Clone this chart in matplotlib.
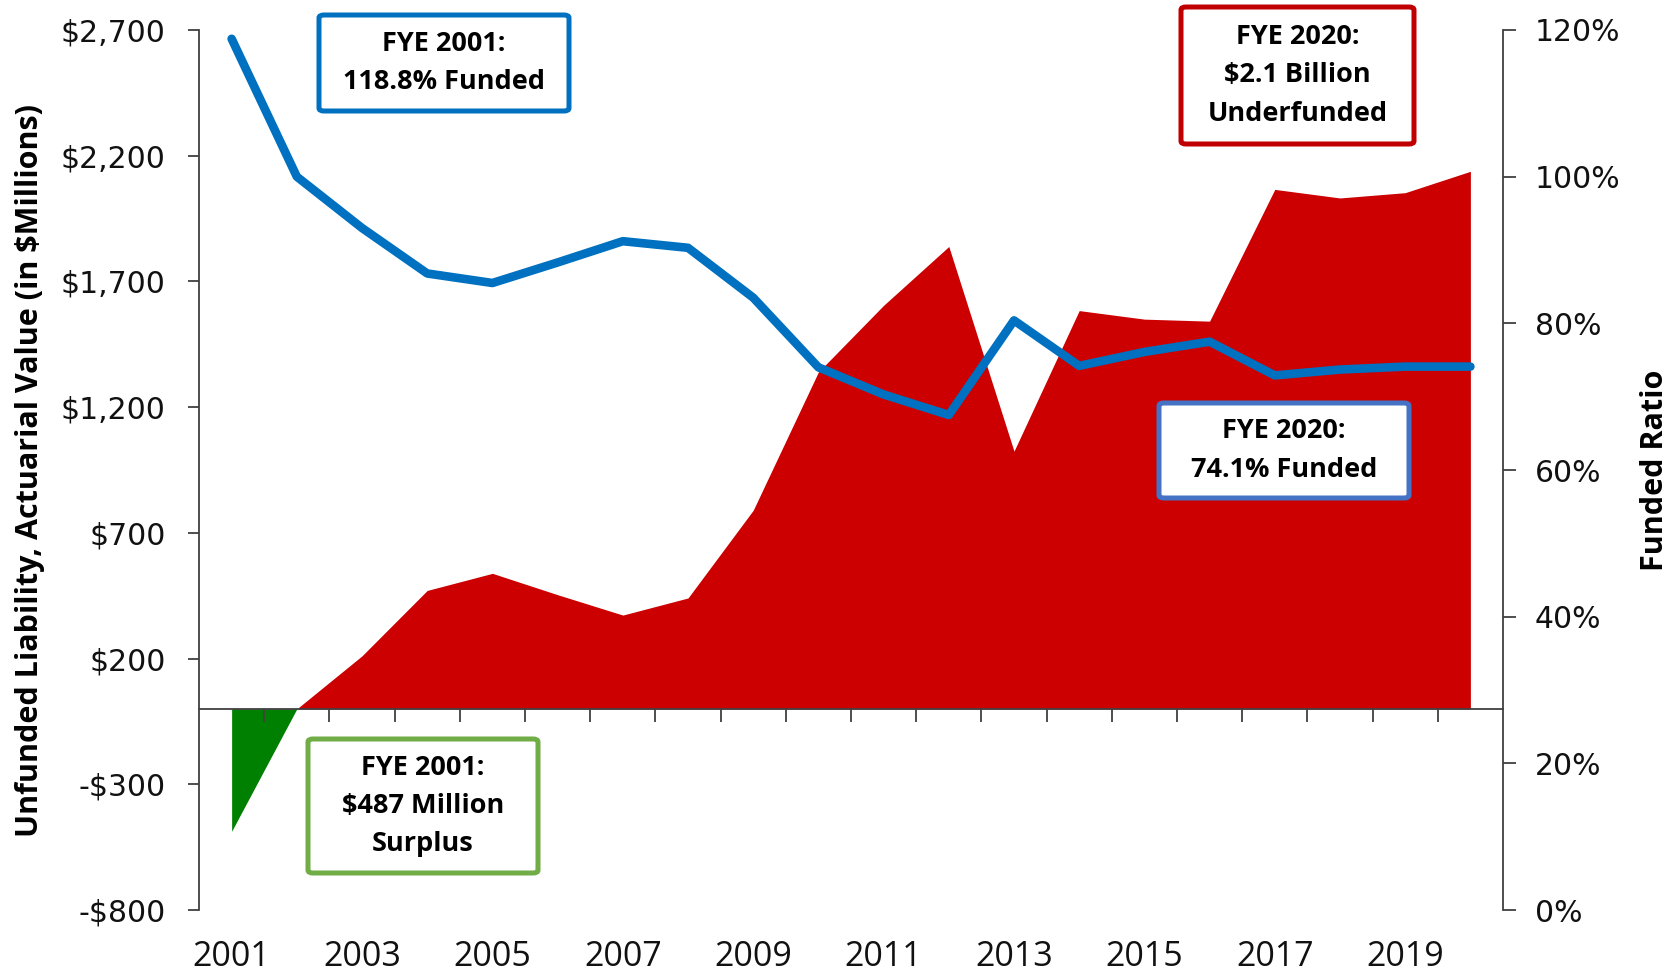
import matplotlib.pyplot as plt
from matplotlib.patches import FancyBboxPatch
from matplotlib.transforms import blended_transform_factory

years = list(range(2001, 2021))
unfunded = [-487, 0, 211, 471, 539, 454, 373, 441, 790, 1340,
            1605, 1839, 1025, 1584, 1550, 1542, 2066, 2032, 2053, 2138]
funded_ratio = [118.8, 100.0, 93.0, 86.8, 85.5, 88.3, 91.2, 90.3, 83.5, 74.0,
                70.3, 67.5, 80.4, 74.2, 76.1, 77.5, 72.9, 73.7, 74.1, 74.1]

left_ticks = [-800, -300, 200, 700, 1200, 1700, 2200, 2700]
right_ticks = [0, 20, 40, 60, 80, 100, 120]

tick_font = 'DejaVu Sans'
box_font = 'Open Sans'

fig = plt.figure(figsize=(16.81, 9.74), dpi=100)
ax = fig.add_axes([0.1184, 0.0657, 0.7757, 0.9035])

# area: red where underfunded, green where surplus
ax.fill_between(years, unfunded, 0, where=[v >= 0 for v in unfunded],
                color='#CC0000', interpolate=True, linewidth=0)
ax.fill_between(years, unfunded, 0, where=[v <= 0 for v in unfunded],
                color='#008000', interpolate=True, linewidth=0)

ax.set_xlim(2000.5, 2020.5)
ax.set_ylim(-800, 2700)
ax.set_yticks(left_ticks)
ax.set_yticklabels([('-$%s' % format(-t, ',')) if t < 0 else '$%s' % format(t, ',')
                    for t in left_ticks], fontfamily=tick_font, fontsize=21.5, color='#111111')
ax.tick_params(axis='y', length=8, width=1.3, color='#404040', pad=16)

ax.spines['top'].set_visible(False)
ax.spines['right'].set_visible(False)
ax.spines['left'].set_color('#404040')
ax.spines['left'].set_linewidth(1.3)
ax.spines['bottom'].set_position(('data', 0))
ax.spines['bottom'].set_color('#404040')
ax.spines['bottom'].set_linewidth(1.3)
ax.set_xticks([y + 0.5 for y in years[:-1]])
ax.set_xticklabels([])
ax.tick_params(axis='x', length=9, width=1.3, color='#404040')

trans = blended_transform_factory(ax.transData, ax.transAxes)
for y in years[::2]:
    ax.text(y, -0.053, str(y), transform=trans, ha='center', va='center',
            fontsize=24.5, family=box_font, color='#111111')

ax.set_ylabel('Unfunded Liability, Actuarial Value (in $Millions)',
              family=box_font, fontweight='bold', fontsize=22)
ax.yaxis.set_label_coords(-0.118, 0.5)

ax2 = ax.twinx()
ax2.plot(years, funded_ratio, color='#0070C0', linewidth=6.2,
         solid_capstyle='round', solid_joinstyle='round')
ax2.set_ylim(0, 120)
ax2.set_yticks(right_ticks)
ax2.set_yticklabels(['%d%%' % t for t in right_ticks], fontfamily=tick_font,
                    fontsize=21.5, color='#111111')
ax2.tick_params(axis='y', length=9, width=1.3, color='#404040', pad=14)
for s in ['top', 'left', 'bottom']:
    ax2.spines[s].set_visible(False)
ax2.spines['right'].set_color('#404040')
ax2.spines['right'].set_linewidth(1.3)
ax2.set_ylabel('Funded Ratio', family=box_font, fontweight='bold', fontsize=22)
ax2.yaxis.set_label_coords(1.105, 0.5)


def note(x0, y0, x1, y1, text, edge):
    # pixel box (top-left origin) -> figure fraction
    W, H = 1681, 974
    fx, fy = x0 / W, 1 - y1 / H
    fw, fh = (x1 - x0) / W, (y1 - y0) / H
    box = FancyBboxPatch((fx, fy), fw, fh, boxstyle='round,pad=0,rounding_size=0.003',
                         transform=fig.transFigure, facecolor='white',
                         edgecolor=edge, linewidth=3.6, zorder=10)
    fig.add_artist(box)
    fig.text(fx + fw / 2, fy + fh / 2, text, ha='center', va='center',
             family=box_font, fontweight='bold', fontsize=19.5, linespacing=1.62,
             zorder=11)


note(319, 15, 569, 111, 'FYE 2001:\n118.8% Funded', '#0070C0')
note(1181, 7, 1414, 144, 'FYE 2020:\n$2.1 Billion\nUnderfunded', '#C00000')
note(1159, 403, 1409, 498, 'FYE 2020:\n74.1% Funded', '#4472C4')
note(308, 739, 538, 873, 'FYE 2001:\n$487 Million\nSurplus', '#70AD47')

fig.savefig('out.png', dpi=100)
